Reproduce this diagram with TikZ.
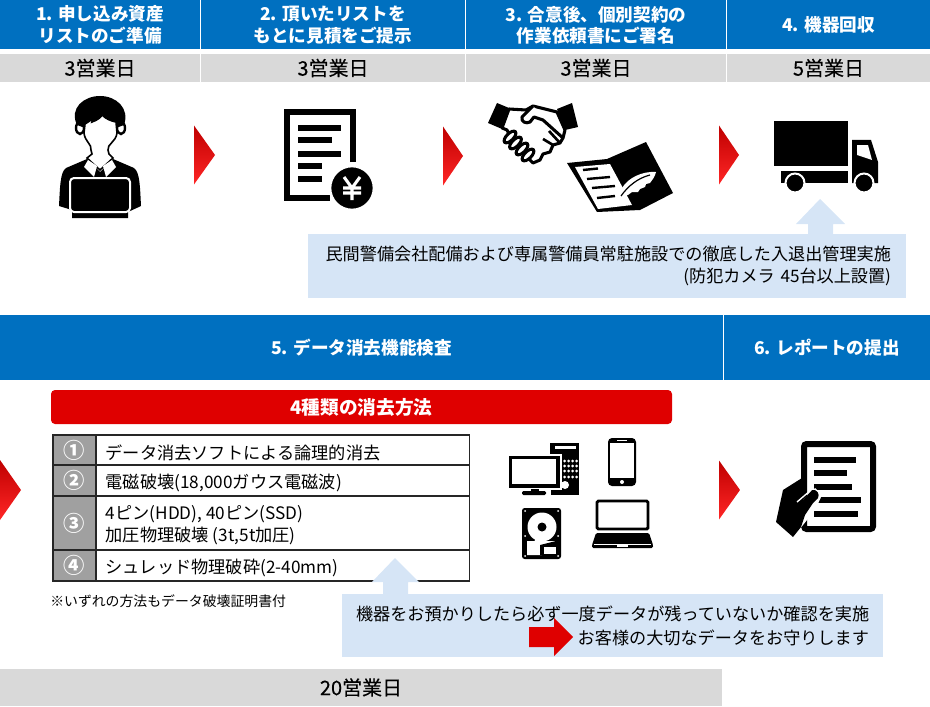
\documentclass[tikz,border=0pt]{standalone}
\usepackage{fontspec}
\setmainfont{Noto Sans CJK JP}
\newfontfamily\medfont[FakeBold=0.3]{Noto Sans CJK JP}
\usetikzlibrary{shapes.geometric, arrows.meta, positioning}
\definecolor{headblue}{HTML}{0070C0}
\definecolor{daygray}{HTML}{D9D9D9}
\definecolor{noteblue}{HTML}{D6E5F6}
\definecolor{methodred}{HTML}{DF0000}
\definecolor{numgray}{HTML}{A0A0A0}
\tikzset{
  headbox/.style={rectangle, fill=headblue, text=white, inner sep=0pt, align=center, minimum height=36.75pt, font=\bfseries\fontsize{13.2}{16}\selectfont},
  daybox/.style={rectangle, fill=daygray, text=black, inner sep=0pt, align=center, minimum height=21pt, font=\medfont\fontsize{15}{16}\selectfont},
  bandbox/.style={headbox, minimum height=48.75pt},
  notebox/.style={rectangle, fill=noteblue, text=black, inner ysep=0pt, align=right, font=\fontsize{12.85}{16.5}\selectfont},
  numcell/.style={rectangle, draw=black!85, line width=1.1pt, fill=numgray, text=white, inner sep=0pt, minimum width=32.25pt, font=\bfseries\fontsize{16}{18}\selectfont},
  textcell/.style={rectangle, draw=black!85, line width=1.1pt, fill=white, anchor=west, inner sep=0pt, minimum width=279.75pt},
  rowtext/.style={anchor=west, inner sep=0pt, align=left, font=\fontsize{12.9}{16.5}\selectfont},
  redtri/.style={top color=red!75!black, middle color=red, bottom color=red!85!white},
  halo/.style={draw=white, line width=1.5pt}
}
\begin{document}
\begin{tikzpicture}[x=0.75pt, y=-0.75pt]
\useasboundingbox (0,0) rectangle (930,706);

\node[headbox, minimum width=150pt] (head1) at (100,25) {1. 申し込み資産\\リストのご準備};
\node[headbox, minimum width=198pt] (head2) at (333,25) {2. 頂いたリストを\\もとに見積をご提示};
\node[headbox, minimum width=195pt] (head3) at (596,25) {3. 合意後、個別契約の\\作業依頼書にご署名};
\node[headbox, minimum width=152.25pt] (head4) at (828.5,25) {4. 機器回収};

\node[daybox, minimum width=150pt] (day1) at (100,68) {3営業日};
\node[daybox, minimum width=198pt] (day2) at (333,68) {3営業日};
\node[daybox, minimum width=195pt] (day3) at (596,68) {3営業日};
\node[daybox, minimum width=152.25pt] (day4) at (828.5,68) {5営業日};

\node[bandbox, minimum width=542.25pt] (check) at (361.5,347.5) {5. データ消去機能検査};
\node[bandbox, minimum width=154.5pt] (report) at (827,347.5) {6. レポートの提出};
\node[daybox, minimum width=541.5pt, minimum height=27.75pt] (daytotal) at (361,687.5) {20営業日};

\foreach \x/\y/\tip in {194/155/215, 443/156/463, 719/155/739, 719/490/740}
  \shade[redtri] (\x,\y-29.5) -- (\tip,\y) -- (\x,\y+29.5) -- cycle;
\shade[redtri] (0,460) -- (21,490) -- (0,520) -- cycle;

\node[rectangle, fill=methodred, text=white, rounded corners=3pt, minimum width=465.75pt, minimum height=25.5pt, inner sep=0pt, font=\bfseries\fontsize{14}{16}\selectfont] (methods) at (361.5,407) {4種類の消去方法};

\foreach \n/\yc/\rowh/\txt in {1/450/22.5pt/{データ消去ソフトによる論理的消去}, 2/480.5/23.25pt/{電磁破壊(18,000ガウス電磁波)}, 3/523/40.5pt/{4ピン(HDD), 40ピン(SSD)\\加圧物理破壊 (3t,5t加圧)}, 4/565.5/23.25pt/{シュレッド物理破砕(2-40mm)}} {
  \node[textcell, minimum height=\rowh] (row\n) at (96,\yc) {};
  \node[rowtext] (text\n) at (105.5,\yc+2.5) {\txt};
}
\node[numcell, minimum height=22.5pt] (num1) at (74.5,450) {①};
\node[numcell, minimum height=23.25pt] (num2) at (74.5,480.5) {②};
\node[numcell, minimum height=40.5pt] (num3) at (74.5,523) {③};
\node[numcell, minimum height=23.25pt] (num4) at (74.5,565.5) {④};
\node[anchor=west, inner sep=0pt, font=\fontsize{10.4}{13}\selectfont] (proof) at (50,601) {※いずれの方法もデータ破壊証明書付};

\fill[noteblue] (820,199) -- (845,224) -- (833,224) -- (833,236) -- (808,236) -- (808,224) -- (796,224) -- cycle;
\node[notebox, text width=426pt, inner xsep=11.25pt, minimum height=48pt] (guard) at (607,266) {民間警備会社配備および専属警備員常駐施設での徹底した入退出管理実施\\(防犯カメラ 45台以上設置)};

\fill[noteblue] (395,558) -- (419,582) -- (408,582) -- (408,596) -- (383,596) -- (383,582) -- (372,582) -- cycle;
\node[notebox, text width=384.75pt, inner xsep=10.5pt, minimum height=47.25pt, font=\fontsize{12.85}{18}\selectfont] (confirm) at (612.5,625.5) {機器をお預かりしたら必ず一度データが残っていないか確認を実施\\お客様の大切なデータをお守りします};
\fill[methodred] (529,627) -- (554,627) -- (554,618) -- (573,637) -- (554,656) -- (554,647) -- (529,647) -- cycle;

% person
\fill (59,206) .. controls (60,188) and (60,172) .. (66,168) -- (87,159) -- (100,172) -- (113,159) -- (134,168) .. controls (140,172) and (140,188) .. (141,206) -- (128,212) -- (128,218) -- (72,218) -- (72,210) -- cycle;
\filldraw[fill=white, line width=1.8pt] (80,128) ellipse (4 and 6);
\filldraw[fill=white, line width=1.8pt] (121,128) ellipse (4 and 6);
\fill (77,125) .. controls (69,108) and (84,96) .. (100,96) .. controls (116,96) and (130,108) .. (124,125) -- (116,128) -- (85,128) -- cycle;
\filldraw[fill=white, line width=1.2pt] (85,124) .. controls (88,122) and (92,120) .. (94,117) -- (92,122) .. controls (98,120) and (101,117) .. (102,115) .. controls (106,119) and (111,121) .. (116,122) -- (117,133) .. controls (116,142) and (107,144) .. (108,150) -- (109,154) -- (113,158) -- (100,170) -- (87,158) -- (92,154) -- (91,150) .. controls (92,144) and (85,142) .. (84,133) -- cycle;
\fill[white] (88,160) -- (97,166) -- (94,177) -- (84,167) -- cycle;
\fill[white] (112,160) -- (103,166) -- (106,177) -- (116,167) -- cycle;
\filldraw[fill=black, draw=white, line width=1.5pt, rounded corners=3pt] (70,178) rectangle (130,212);

% estimate sheet
\draw[line width=4.5pt] (353,162) -- (353,112) -- (287,112) -- (287,198) -- (330,198);
\foreach \y/\xe in {125/341, 137/332, 151/341, 163/322, 176/322}
  \fill (298,\y) rectangle (\xe,\y+6);
\filldraw[draw=white, line width=2pt] (352,188) circle (22);
\draw[white, line width=2.3pt] (344,177) -- (352,188) -- (360,177) (352,188) -- (352,200) (343,188) -- (361,188) (343,193) -- (361,193);

% handshake
\fill (497,103) -- (509,108) -- (502,129) -- (488,123) -- cycle;
\fill (572,103) -- (578,127) -- (565,130) -- (557,109) -- cycle;
\draw[line width=2.3pt, line join=round, fill=white] (509,109) -- (526,110) -- (533,106) -- (557,112) -- (565,130) -- (563,138) -- (560,143) -- (553,145) -- (550,152) -- (543,154) -- (540,160) -- (533,163) -- (515,145) -- (507,130) -- (502,128) -- cycle;
\foreach \x/\y in {510/137, 515.5/143, 522/149, 528/155}
  \draw[line width=2.3pt, fill=white, rotate around={45:(\x,\y)}] (\x,\y) ellipse (7.5 and 3.5);
\draw[line width=2.3pt, line join=round, fill=white] (533,106) -- (522,117) .. controls (521,122) and (526,124) .. (530,122) -- (534,117) -- (543,120) -- (563,138);
\draw[line width=2pt] (543,139) -- (553,145) (549,131) -- (560,143);

% contract
\fill (567,163) -- (607,159) -- (646,142) -- (673,193) -- (640,210) -- (597,212) -- cycle;
\fill[white] (575,167) -- (610,164) -- (632,205) -- (598,209) -- cycle;
\foreach \xa/\ya/\xb/\yb in {583/170/598/168.5, 587/179/610/177, 592/188/615/186, 597/198/615/196}
  \draw[line width=1.8pt] (\xa,\ya) -- (\xb,\yb);
\fill[white] (616,203) -- (622,188) .. controls (628,178) and (642,171) .. (656,172) .. controls (655,177) and (652,180) .. (650,183) -- (646,184) -- (645,187) -- (640,189) -- (638,192) -- (632,192) -- (628,195) -- (622,195) -- (617,204) -- cycle;
\draw[line width=0.9pt] (621,196) .. controls (628,186) and (638,178) .. (650,175);

% truck
\fill (774,121) rectangle (848,166);
\fill (781,171) rectangle (848,183);
\fill (852,140) -- (871,140) -- (878,162) -- (878,183) -- (852,183) -- cycle;
\fill[white] (857,145) -- (868,145) -- (872,160) -- (857,155) -- cycle;
\filldraw[halo] (795,183) circle (9.5);
\filldraw[halo] (864,183) circle (9.5);

% desktop
\fill (550,443) rectangle (579,495);
\fill[white] (555,446) rectangle (576,449);
\foreach \x in {565,569,573,577}
  \foreach \y in {461,466,471,477}
    \fill[white] (\x-0.5,\y) circle (1.5);
\fill[white] (565,485) circle (4);
\filldraw[draw=white, line width=1.2pt] (508,455) rectangle (561,489);
\fill[white] (512,459) rectangle (556,484);
\fill (531,489) rectangle (539,492);
\fill[rounded corners=1pt] (522,491) rectangle (546,495);
\fill[white] (548,489) rectangle (551,495);

% phone
\fill[rounded corners=3pt] (608,438) rectangle (636,486);
\fill[white] (610,443) rectangle (634,478);
\fill[white] (622,482) circle (2);
\fill[white] (617,440) rectangle (627,441);

% disk
\fill[rounded corners=2pt] (522,508) rectangle (561,559);
\foreach \x/\y in {525/511, 558/511, 525/536, 558/536, 525/556, 558/556}
  \fill[white] (\x,\y) circle (1);
\fill[white] (527,541) -- (556,541) -- (552,545) -- (542,552) -- (542,555) -- (527,555) -- cycle;
\fill (540,545) -- (556,541) -- (556,555) -- (540,555) -- cycle;
\fill[white] (542,527) circle (14.5);
\fill (542,527) circle (4.5);
\fill[white] (544,547) rectangle (556,554);
\draw[white, line width=2.5pt] (530,552) -- (540,535);

% notebook
\draw[line width=2.2pt, rounded corners=1pt] (597,501) rectangle (648,529);
\fill[rounded corners=1pt] (596,533) -- (649,533) -- (653,545) -- (653,548) -- (592,548) -- (592,545) -- cycle;
\draw[white, line width=0.5pt] (594,544) -- (651,544);
\fill[white] (617,545) rectangle (628,547);

% report
\draw[line width=4.5pt, rounded corners=2pt] (804,444) rectangle (873,529);
\foreach \y/\xe in {457/856, 470/847, 484/852, 497/861, 511/858}
  \fill (814,\y) rectangle (\xe,\y+6);
\fill[white] (795,535) -- (815,510) -- (822,495) -- (815,488) -- (798,505) -- (790,520) -- cycle;
\fill (776,522) -- (783,490) -- (802,478) -- (803,500) -- (812,490) .. controls (817,489) and (820,494) .. (818,498) -- (813,503) -- (805,515) -- (801,527) -- (793,537) -- cycle;
\draw[white, line width=1pt] (797,502) -- (811,490);
\end{tikzpicture}
\end{document}
